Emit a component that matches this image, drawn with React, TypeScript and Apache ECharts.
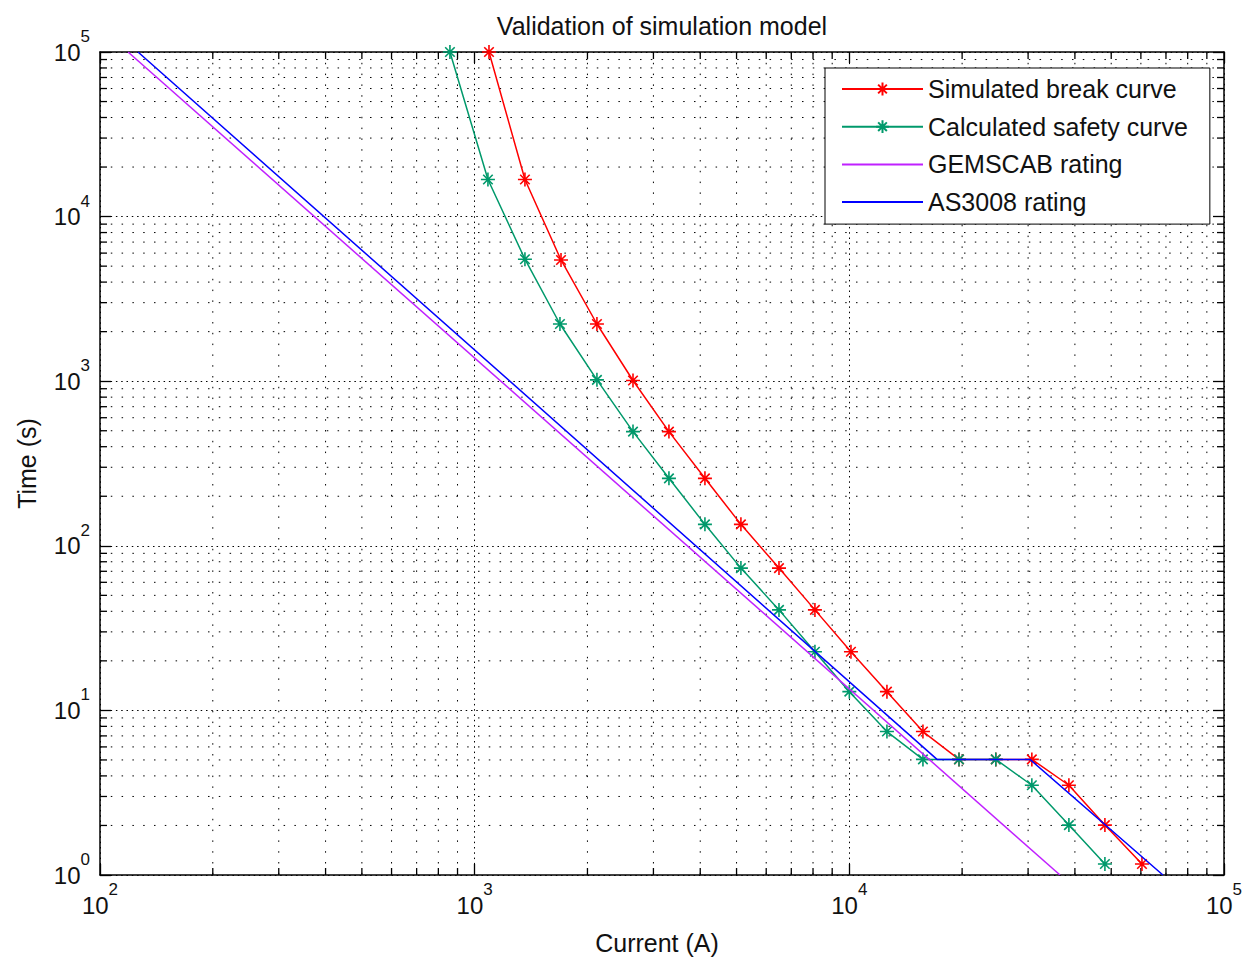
import React, { useEffect, useRef } from 'react';
import * as echarts from 'echarts';

const FONT = '"Liberation Sans", Arial, Helvetica, sans-serif';
const TEXT_COLOR = '#111';

// ---- data ----
const breakCurrent = [1092, 1362, 1700, 2120, 2646, 3300, 4117, 5136, 6490, 8094, 10100, 12600, 15720, 19620, 24600, 30700, 38550, 48100, 60400];
const breakTime = [100000, 16800, 5450, 2226, 1010, 494, 257, 135, 73.2, 40.8, 22.7, 13.0, 7.44, 5.04, 5.04, 5.04, 3.51, 2.01, 1.166];

const safetyCurrent = [859, 1085, 1362, 1689, 2120, 2646, 3300, 4117, 5136, 6490, 8094, 10000, 12600, 15720, 19620, 24600, 30700, 38550, 48100];
const safetyTime = [100000, 16800, 5510, 2226, 1019, 494, 257, 135, 73.2, 40.8, 22.7, 13.0, 7.44, 5.04, 5.04, 5.04, 3.51, 2.01, 1.166];

const gemscabCurrent = [118.8, 36500];
const gemscabTime = [100000, 1];

const as3008Current = [126.3, 17140, 30340, 68700];
const as3008Time = [100000, 5.04, 5.04, 1];

const seriesNames = ['Simulated break curve', 'Calculated safety curve', 'GEMSCAB rating', 'AS3008 rating'];

// axis ranges / ticks
const X_MIN = 100;
const X_MAX = 100000;
const Y_MIN = 1;
const Y_MAX = 100000;
const xMinorDecades = [100, 1000, 10000];
const yMinorDecades = [1, 10, 100, 1000, 10000];
const minorMultipliers = [2, 3, 4, 5, 6, 7, 8, 9];

const ASTERISK = 'path://M5 0L5 10M0 5L10 5M1.6 1.6L8.4 8.4M1.6 8.4L8.4 1.6';

function zip(xs: number[], ys: number[]) {
  return xs.map((x, i) => [x, ys[i]]);
}

const labelFormatter = (v: number) => `{b|10}{e|${Math.round(Math.log10(v))}}`;
const labelRich = {
  b: { fontSize: 24, fontFamily: FONT, color: TEXT_COLOR, lineHeight: 48 },
  e: { fontSize: 17, fontFamily: FONT, color: TEXT_COLOR, lineHeight: 8, verticalAlign: 'top' },
};

const majorGrid = { show: true, lineStyle: { color: '#000', width: 1, type: [1.5, 3.8] } };
const axisLineStyle = { show: true, lineStyle: { color: '#000', width: 1.5 } };
const majorTick = { show: true, inside: true, length: 11, lineStyle: { color: '#000', width: 1.3 } };

export default function App() {
  const ref = useRef<HTMLDivElement>(null);

  useEffect(() => {
    if (!ref.current) return;
    const chart = echarts.init(ref.current, undefined, { renderer: 'svg' });

    const minorData: number[][] = [];
    xMinorDecades.forEach((d) => minorMultipliers.forEach((m) => minorData.push([m * d, 10, 0])));
    yMinorDecades.forEach((d) => minorMultipliers.forEach((m) => minorData.push([1000, m * d, 1])));

    const dotStyle = { stroke: '#000', lineWidth: 1, lineDash: [1.5, 9.3] };
    const tickStyle = { stroke: '#000', lineWidth: 1.3 };
    const TL = 7;

    const markerSeries = (name: string, color: string, data: number[][], z: number) => ({
      name,
      type: 'line',
      data,
      z,
      symbol: ASTERISK,
      symbolSize: 14,
      symbolKeepAspect: true,
      showAllSymbol: true,
      lineStyle: { color, width: 1.5 },
      itemStyle: { color, borderColor: color, borderWidth: 1.6 },
      emphasis: { disabled: true },
      silent: true,
    });

    const plainSeries = (name: string, color: string, data: number[][], z: number) => ({
      name,
      type: 'line',
      data,
      z,
      symbol: 'none',
      showSymbol: false,
      lineStyle: { color, width: 1.5 },
      itemStyle: { color },
      emphasis: { disabled: true },
      silent: true,
    });

    chart.setOption({
      animation: false,
      backgroundColor: '#fff',
      title: {
        text: 'Validation of simulation model',
        left: 657,
        top: 8,
        textAlign: 'center',
        textStyle: { fontSize: 25, fontWeight: 'normal', fontFamily: FONT, color: TEXT_COLOR },
      },
      grid: { left: 100, top: 52, right: 32, bottom: 82, containLabel: false },
      legend: {
        orient: 'vertical',
        left: 825,
        top: 68,
        itemWidth: 81,
        itemHeight: 16,
        itemGap: 12.7,
        padding: [8.5, 22, 9.5, 16],
        backgroundColor: '#fff',
        borderColor: '#000',
        borderWidth: 1,
        selectedMode: false,
        textStyle: { fontSize: 25, fontFamily: FONT, color: TEXT_COLOR, lineHeight: 25 },
        data: [
          { name: seriesNames[0] },
          { name: seriesNames[1] },
          { name: seriesNames[2], itemStyle: { opacity: 0 } },
          { name: seriesNames[3], itemStyle: { opacity: 0 } },
        ],
      },
      xAxis: [
        {
          type: 'log',
          logBase: 10,
          min: X_MIN,
          max: X_MAX,
          position: 'bottom',
          axisLine: axisLineStyle,
          axisTick: majorTick,
          axisLabel: { formatter: labelFormatter, margin: 6, rich: labelRich },
          splitLine: majorGrid,
          name: 'Current (A)',
          nameLocation: 'middle',
          nameGap: 55,
          nameTextStyle: { fontSize: 25, fontFamily: FONT, color: TEXT_COLOR, padding: [0, 10, 0, 0] },
        },
        {
          type: 'log',
          logBase: 10,
          min: X_MIN,
          max: X_MAX,
          position: 'top',
          axisLine: axisLineStyle,
          axisTick: majorTick,
          axisLabel: { show: false },
          splitLine: { show: false },
        },
      ],
      yAxis: [
        {
          type: 'log',
          logBase: 10,
          min: Y_MIN,
          max: Y_MAX,
          position: 'left',
          axisLine: axisLineStyle,
          axisTick: majorTick,
          axisLabel: { formatter: labelFormatter, margin: 10, rich: labelRich },
          splitLine: majorGrid,
          name: 'Time (s)',
          nameLocation: 'middle',
          nameRotate: 90,
          nameGap: 61,
          nameTextStyle: { fontSize: 25, fontFamily: FONT, color: TEXT_COLOR },
        },
        {
          type: 'log',
          logBase: 10,
          min: Y_MIN,
          max: Y_MAX,
          position: 'right',
          axisLine: axisLineStyle,
          axisTick: majorTick,
          axisLabel: { show: false },
          splitLine: { show: false },
        },
      ],
      series: [
        {
          name: 'minor-grid',
          type: 'custom',
          xAxisIndex: 0,
          yAxisIndex: 0,
          silent: true,
          z: 1,
          encode: { x: 0, y: 1 },
          data: minorData,
          renderItem: (_params: any, api: any) => {
            const v0 = api.value(0);
            const v1 = api.value(1);
            const flag = api.value(2);
            if (flag === 0) {
              const top = api.coord([v0, Y_MAX]);
              const bot = api.coord([v0, Y_MIN]);
              return {
                type: 'group',
                children: [
                  { type: 'line', shape: { x1: top[0], y1: top[1], x2: bot[0], y2: bot[1] }, style: dotStyle },
                  { type: 'line', shape: { x1: bot[0], y1: bot[1], x2: bot[0], y2: bot[1] - TL }, style: tickStyle },
                  { type: 'line', shape: { x1: top[0], y1: top[1], x2: top[0], y2: top[1] + TL }, style: tickStyle },
                ],
              };
            }
            const left = api.coord([X_MIN, v1]);
            const right = api.coord([X_MAX, v1]);
            return {
              type: 'group',
              children: [
                { type: 'line', shape: { x1: left[0], y1: left[1], x2: right[0], y2: right[1] }, style: dotStyle },
                { type: 'line', shape: { x1: left[0], y1: left[1], x2: left[0] + TL, y2: left[1] }, style: tickStyle },
                { type: 'line', shape: { x1: right[0], y1: right[1], x2: right[0] - TL, y2: right[1] }, style: tickStyle },
              ],
            };
          },
        },
        markerSeries(seriesNames[0], '#ff0000', zip(breakCurrent, breakTime), 3),
        markerSeries(seriesNames[1], '#00996b', zip(safetyCurrent, safetyTime), 4),
        plainSeries(seriesNames[2], '#c020ff', zip(gemscabCurrent, gemscabTime), 5),
        plainSeries(seriesNames[3], '#0000ff', zip(as3008Current, as3008Time), 6),
      ],
    });

    return () => chart.dispose();
  }, []);

  return (
    <div
      ref={ref}
      style={{ position: 'absolute', left: 0, top: 0, width: 1256, height: 960, background: '#fff' }}
    />
  );
}
